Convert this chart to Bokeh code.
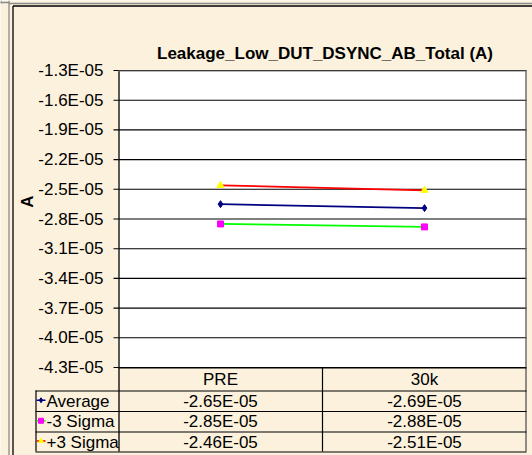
from math import pi
from bokeh.plotting import figure
from bokeh.models import Range1d
from bokeh.core.properties import value
from bokeh.embed import file_html
from bokeh.resources import INLINE

# ---------------- data ----------------
title_text = "Leakage_Low_DUT_DSYNC_AB_Total (A)"
y_axis_label = "A"
categories = ["PRE", "30k"]
series_names = ["Average", "-3 Sigma", "+3 Sigma"]
average = [-2.65e-05, -2.69e-05]
minus_3_sigma = [-2.85e-05, -2.88e-05]
plus_3_sigma = [-2.46e-05, -2.51e-05]
y_ticks = [-1.3e-05, -1.6e-05, -1.9e-05, -2.2e-05, -2.5e-05, -2.8e-05,
           -3.1e-05, -3.4e-05, -3.7e-05, -4.0e-05, -4.3e-05]
y_tick_labels = ["-1.3E-05", "-1.6E-05", "-1.9E-05", "-2.2E-05", "-2.5E-05",
                 "-2.8E-05", "-3.1E-05", "-3.4E-05", "-3.7E-05", "-4.0E-05",
                 "-4.3E-05"]

series_values = [average, minus_3_sigma, plus_3_sigma]
line_colors = ["#000080", "#00FF00", "#FF0000"]
marker_types = ["diamond", "square", "triangle"]
marker_colors = ["#000080", "#FF00FF", "#FFFF00"]
marker_sizes = [7, 6, 7]

# ---------------- layout (pixels inside the figure) ----------------
W, H = 532, 455
PL, PR, PT, PB = 118, 526, 70, 367           # plot area
ROWS = [367, 390, 410.5, 431, 451]           # table horizontal lines
LEG_L = 35                                   # legend column left edge
BG = "#FBF1DC"
FONT = value("Liberation Sans")
FS = "17px"

YMAX, YMIN = max(y_ticks), min(y_ticks)
span = YMAX - YMIN
v_top = YMAX + PT / (PB - PT) * span
v_bottom = YMAX - (H - PT) / (PB - PT) * span
ncat = len(categories)
cx_start = (0 - PL) / (PR - PL) * ncat
cx_end = (W - PL) / (PR - PL) * ncat

p = figure(width=W, height=H, x_range=Range1d(0, W), y_range=Range1d(H, 0),
           x_axis_type=None, y_axis_type=None, output_backend="svg",
           toolbar_location=None, min_border=0)
p.extra_x_ranges = {"cat": Range1d(cx_start, cx_end)}
p.extra_y_ranges = {"val": Range1d(v_bottom, v_top)}
p.background_fill_color = BG
p.border_fill_color = BG
p.outline_line_color = None
p.grid.visible = False

# outer chart border
p.segment(x0=[8.5, 8.5, 12.5, 12.5, 0, 0.5],
          y0=[3, 0, 5.5, 5.5, 2, 0],
          x1=[W, 8.5, W, 12.5, 8.5, 0.5],
          y1=[3, H, 5.5, H, 2, 3],
          line_color=["#8a8a8a", "#8a8a8a", "#000000", "#000000", "#8a8a8a", "#8a8a8a"],
          line_width=1.3)

# plot area
p.quad(left=PL, right=PR, top=PT, bottom=PB, fill_color="white", line_color=None)

# gridlines, ticks, tick labels
n = len(y_ticks)
p.segment(x0=[PL] * n, x1=[PR] * n, y0=y_ticks, y1=y_ticks, y_range_name="val",
          line_color="black", line_width=1.1)
p.segment(x0=[PL - 5] * n, x1=[PL] * n, y0=y_ticks, y1=y_ticks, y_range_name="val",
          line_color="black", line_width=1.1)
p.text(x=[PL - 15] * n, y=y_ticks, text=y_tick_labels, y_range_name="val",
       text_align="right", text_baseline="middle", text_font=FONT,
       text_font_size=FS, text_color="black")

# plot area border (continues down through the data table)
p.segment(x0=[PL + 0.5, PR - 0.5], y0=[PT, PT], x1=[PL + 0.5, PR - 0.5], y1=[ROWS[-1], ROWS[-1]],
          line_color=["black", "#555555"], line_width=1.3)
p.segment(x0=[PL], y0=[PT + 0.5], x1=[PR], y1=[PT + 0.5], line_color="#777777", line_width=1.2)

# title and axis label
p.text(x=[324.5], y=[52.5], text=[title_text], text_align="center",
       text_baseline="middle", text_font=FONT, text_font_size=FS,
       text_font_style="bold", text_color="black")
p.text(x=[27], y=[201], text=[y_axis_label], angle=pi / 2,
       text_align="center", text_baseline="middle", text_font=FONT,
       text_font_size=FS, text_font_style="bold", text_color="black")

# series
xs = [i + 0.5 for i in range(ncat)]
for vals, lc, mt, mc, ms in zip(series_values, line_colors, marker_types, marker_colors, marker_sizes):
    p.line(x=xs, y=vals, x_range_name="cat", y_range_name="val",
           line_color=lc, line_width=1.8)
    p.scatter(x=xs, y=vals, x_range_name="cat", y_range_name="val",
              marker=mt, size=ms, fill_color=mc, line_color=mc)

# data table lines
div_x = [float(i) for i in range(1, ncat)]
p.segment(x0=div_x, x1=div_x, y0=[ROWS[0]] * len(div_x), y1=[ROWS[-1]] * len(div_x),
          x_range_name="cat", line_color="black", line_width=1.2)
p.segment(x0=[LEG_L + 0.5], x1=[LEG_L + 0.5], y0=[ROWS[1]], y1=[ROWS[-1]],
          line_color="black", line_width=1.2)
p.segment(x0=[PL] + [LEG_L] * (len(ROWS) - 1), x1=[PR] * len(ROWS),
          y0=[r + 0.5 for r in ROWS], y1=[r + 0.5 for r in ROWS],
          line_color="black", line_width=1.2)

# header
hy = (ROWS[0] + ROWS[1]) / 2 + 0.5
p.text(x=xs, y=[hy] * ncat, text=categories, x_range_name="cat",
       text_align="center", text_baseline="middle", text_font=FONT,
       text_font_size=FS, text_color="black")

# rows
for r, (name, vals, lc, mt, mc) in enumerate(zip(series_names, series_values, line_colors,
                                                   marker_types, marker_colors)):
    ry = (ROWS[r + 1] + ROWS[r + 2]) / 2 + 0.5
    p.text(x=xs, y=[ry] * ncat, text=[f"{v:.2E}" for v in vals], x_range_name="cat",
           text_align="center", text_baseline="middle", text_font=FONT,
           text_font_size=FS, text_color="black")
    p.segment(x0=[LEG_L + 1], x1=[LEG_L + 10], y0=[ry - 1], y1=[ry - 1],
              line_color=lc, line_width=1.5)
    p.scatter(x=[LEG_L + 5.5], y=[ry - 1], marker=mt, size=5, fill_color=mc, line_color=mc)
    p.text(x=[LEG_L + 11], y=[ry], text=[name], text_align="left",
           text_baseline="middle", text_font=FONT, text_font_size=FS,
           text_color="black")

open("out.html", "w").write(file_html(p, INLINE))
